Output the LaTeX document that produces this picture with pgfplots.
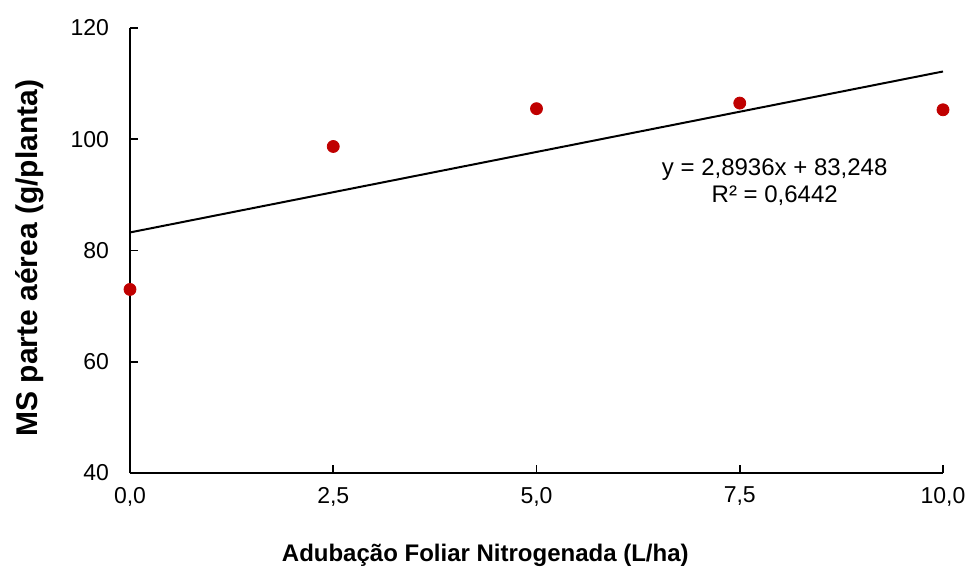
\documentclass[border=0pt]{standalone}
\usepackage{pgfplots}
\pgfplotsset{compat=1.18}
\usepackage{fontspec}
\setmainfont{Liberation Sans}
\definecolor{ptred}{RGB}{192,0,0}
\begin{document}
\begin{tikzpicture}
\path[use as bounding box] (-65pt,-51pt) rectangle (419pt,236.5pt);
\begin{axis}[
    scale only axis,
    width=406.5pt, height=222.5pt,
    xmin=0, xmax=10, ymin=40, ymax=120,
    axis x line*=bottom, axis y line*=left,
    axis line style={line width=1pt},
    tick style={line width=0.8pt, black},
    tick align=inside,
    major tick length=4pt,
    xtick={0,2.5,5,7.5,10},
    ytick={40,60,80,100,120},
    /pgf/number format/assume math mode=true,
    /pgf/number format/use comma,
    ticklabel style={font=\fontsize{11.5}{13}\selectfont},
    yticklabel style={xshift=-7pt},
    xticklabel style={yshift=-3.5pt, /pgf/number format/fixed, /pgf/number format/fixed zerofill, /pgf/number format/precision=1},
    xlabel={\textbf{Adubação Foliar Nitrogenada (L/ha)}},
    ylabel={\textbf{MS parte aérea (g/planta)}},
    xlabel style={font=\fontsize{12}{14}\selectfont, at={(axis description cs:0.437,-0.185)}, anchor=center},
    ylabel style={font=\fontsize{15}{17}\selectfont, at={(axis description cs:-0.123,0.483)}, anchor=center},
    clip=false,
]
\addplot[only marks, mark=*, mark size=3pt, color=ptred] coordinates {
    (0,73.0) (2.5,98.7) (5,105.5) (7.5,106.5) (10,105.3)};
\addplot[black, line width=1pt] coordinates {(0,83.248) (10,112.184)};
\node[align=center, font=\fontsize{12}{13.5}\selectfont] at (axis cs:7.93,92.3)
    {y = 2,8936x + 83,248\\R² = 0,6442};
\end{axis}
\end{tikzpicture}
\end{document}
